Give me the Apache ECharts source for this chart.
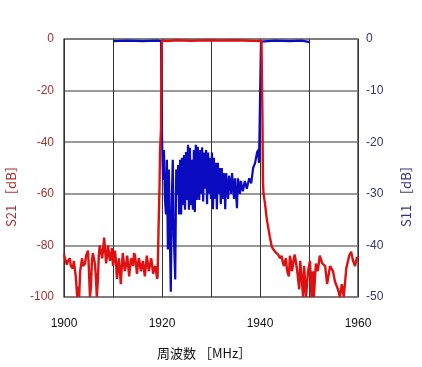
<!DOCTYPE html>
<html><head><meta charset="utf-8">
<script src="https://cdn.jsdelivr.net/npm/echarts@6/dist/echarts.min.js"></script>
<style>html,body{margin:0;padding:0;background:#fff}#c{width:422px;height:367px}</style>
</head><body><div id="c"></div>
<script>
// S21 (left axis, dB)
const s21Freq = [1900.0,1900.2,1900.6,1900.8,1901.2,1901.4,1901.8,1902.0,1902.4,1902.7,1902.9,1903.1,1903.3,1903.7,1903.9,1904.3,1904.5,1904.9,1905.1,1905.3,1905.5,1905.7,1905.9,1906.3,1906.5,1906.7,1906.9,1907.1,1907.3,1907.8,1908.2,1908.4,1908.6,1909.0,1909.2,1909.4,1909.8,1910.0,1910.2,1910.4,1910.6,1910.8,1911.0,1911.2,1911.4,1911.6,1911.8,1912.0,1912.4,1912.7,1912.9,1913.3,1913.5,1913.7,1914.1,1914.3,1914.5,1914.9,1915.1,1915.3,1915.7,1915.9,1916.1,1916.5,1916.7,1916.9,1917.3,1917.6,1917.8,1918.2,1918.4,1918.6,1918.8,1919.0,1919.1,1919.3,1919.5,1919.6,1919.8,1919.9,1920.0,1921,1923,1926,1929,1932,1935,1938,1940.3,1940.5,1940.6,1940.7,1941.0,1941.4,1942.0,1942.4,1942.7,1943.1,1943.4,1943.7,1944.1,1944.4,1944.7,1944.9,1945.1,1945.3,1945.5,1945.7,1945.9,1946.1,1946.3,1946.5,1946.7,1946.9,1947.1,1947.6,1948.0,1948.2,1948.6,1948.8,1949.0,1949.4,1949.8,1950.2,1950.5,1950.8,1951.0,1951.4,1951.8,1952.2,1952.7,1953.3,1953.7,1954.3,1954.9,1955.3,1955.9,1956.3,1956.7,1957.1,1957.6,1958.2,1958.6,1959.0,1959.4,1959.8,1960.0];
const s21Val = [-83.5,-85,-87.5,-86,-85,-88,-89,-86,-92,-100,-96,-100,-90,-85,-88,-87,-84,-82,-90,-100,-96,-86,-83,-87,-92,-100,-94,-84,-80,-85,-77,-82,-87,-80,-84,-86,-81,-88,-85,-82,-86,-93,-89,-85,-90,-95,-88,-83,-90,-87,-84,-92,-88,-85,-88,-83,-84,-91,-87,-85,-90,-88,-86,-92,-88,-84,-90,-87,-85,-91,-89,-88,-90,-93,-92,-73,-57,-43,-35,-5,-0.6,-0.8,-0.5,-0.7,-0.5,-0.6,-0.5,-0.7,-0.8,-30,-55,-59.6,-63.5,-70,-76.6,-80.5,-81.5,-82.5,-83,-83.6,-85,-84,-87,-88,-86,-85,-89.4,-91,-92,-84,-86,-90,-88,-85,-83.6,-90,-97,-86,-95,-100,-88,-100,-90,-86,-100,-90,-100,-87,-90,-84,-87,-88,-95,-88,-90,-94,-97,-100,-95,-100,-89,-84,-82.5,-86,-88,-84.5,-85];
// S11 (right axis, dB)
const s11Freq = [1910.0,1913,1916,1919,1919.8,1919.9,1920.0,1920.2,1920.4,1920.6,1920.8,1921.0,1921.2,1921.4,1921.6,1921.8,1922.0,1922.2,1922.4,1922.7,1922.9,1923.1,1923.3,1923.5,1923.7,1923.9,1924.1,1924.3,1924.5,1924.7,1924.9,1925.1,1925.3,1925.5,1925.7,1925.9,1926.1,1926.3,1926.5,1926.7,1926.9,1927.1,1927.3,1927.6,1927.8,1928.0,1928.2,1928.4,1928.6,1928.8,1929.0,1929.2,1929.4,1929.6,1929.8,1930.0,1930.2,1930.4,1930.6,1930.8,1931.0,1931.2,1931.4,1931.6,1931.8,1932.0,1932.2,1932.4,1932.7,1932.9,1933.1,1933.5,1933.7,1934.1,1934.3,1934.7,1934.9,1935.3,1935.5,1935.9,1936.1,1936.5,1936.9,1937.3,1937.8,1938.2,1938.6,1939.0,1939.4,1939.6,1939.8,1940.0,1940.2,1943,1946,1948.5,1948.8,1950.2];
const s11Val = [-0.4,-0.3,-0.4,-0.3,-0.4,-10,-18.6,-27.3,-21.5,-31,-34,-23.4,-40.8,-25.3,-38,-49,-31,-23.4,-38,-46.6,-25.3,-30.2,-24.4,-34,-23.4,-34,-23,-32.2,-22.5,-33.1,-21.9,-31.2,-20.5,-33.1,-21.1,-32.2,-23.4,-33.1,-21.5,-33.5,-20.5,-31.2,-20.9,-31.2,-21.5,-30,-21,-31.5,-22,-29,-21.5,-32,-22,-30,-23,-31,-22,-33,-23,-31,-24,-33,-24,-30,-25,-32,-25,-31,-26,-33,-26,-31,-26.5,-30,-26,-31,-27,-32.8,-27,-30,-27.5,-29.5,-27.5,-29,-27,-28,-25,-24,-22,-21.5,-24,-12,-0.5,-0.3,-0.4,-0.3,-0.6,-0.6];
const xTicks = [1900,1920,1940,1960];

const s21Data = s21Freq.map((f,i)=>[f,s21Val[i]]);
const s11Data = s11Freq.map((f,i)=>[f,s11Val[i]]);
const redTxt = '#a83232', blueTxt = '#333377';
const font = 'Liberation Sans, Arial, sans-serif';
const jp = '13px "Noto Sans CJK JP", sans-serif';

const chart = echarts.init(document.getElementById('c'), null, {renderer:'canvas'});
chart.setOption({
  animation:false,
  grid:{left:64,right:64,top:39,bottom:70,show:true,borderColor:'#222',borderWidth:1.2},
  xAxis:{type:'value',min:1900,max:1960,interval:10,
    axisLine:{show:false},axisTick:{show:false},
    splitLine:{show:true,lineStyle:{color:'#333',width:1}},
    axisLabel:{margin:21,color:'#111',fontSize:12,fontFamily:font,
      formatter:v=>xTicks.includes(v)?String(v):''}},
  yAxis:[
    {type:'value',min:-100,max:0,interval:20,position:'left',
      axisLine:{show:false},axisTick:{show:false},
      splitLine:{show:true,lineStyle:{color:'#777',width:1.5}},
      axisLabel:{margin:10,color:redTxt,fontSize:12,fontFamily:font}},
    {type:'value',min:-50,max:0,interval:10,position:'right',
      axisLine:{show:false},axisTick:{show:false},splitLine:{show:false},
      axisLabel:{margin:8,color:blueTxt,fontSize:12,fontFamily:font}}
  ],
  series:[
    {type:'line',yAxisIndex:1,data:s11Data,showSymbol:false,
      lineStyle:{color:'#0a0ac0',width:2.2},z:3},
    {type:'line',yAxisIndex:0,data:s21Data,showSymbol:false,
      lineStyle:{color:'#dd1111',width:2.4},z:4}
  ],
  graphic:[
    {type:'text',x:157,y:347,style:{text:'周波数 ［MHz］',fill:'#111',font:jp}},
    {type:'text',x:5,y:227,rotation:Math.PI/2,
      style:{text:'S21 ［dB］',fill:redTxt,font:jp}},
    {type:'text',x:400,y:227,rotation:Math.PI/2,
      style:{text:'S11 ［dB］',fill:blueTxt,font:jp}}
  ]
});
</script></body></html>
